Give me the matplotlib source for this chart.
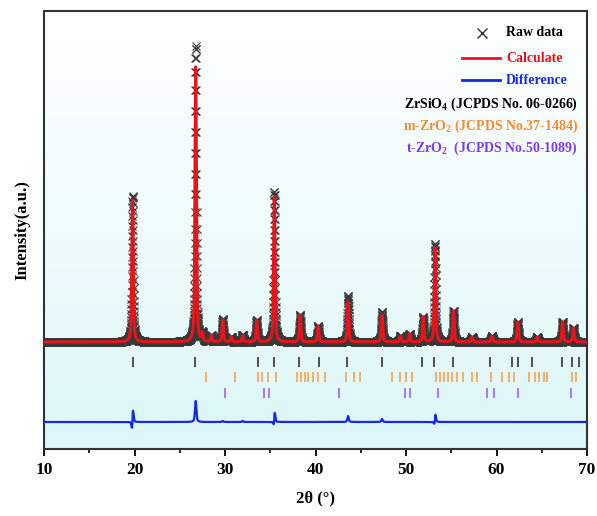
import numpy as np
import matplotlib.pyplot as plt
from matplotlib.lines import Line2D
from matplotlib.colors import LinearSegmentedColormap

plt.rcParams['font.family'] = ['Liberation Serif', 'DejaVu Serif']
plt.rcParams['font.weight'] = 'bold'
plt.rcParams['mathtext.default'] = 'regular'

# peaks (2theta, height above background, arbitrary units)
peak_pos = [19.78, 26.76, 27.5, 28.5, 29.75, 30.7, 31.95, 33.5, 35.45, 38.3, 40.3,
            43.6, 47.35, 49.4, 50.4, 51.9, 53.2, 55.25, 57.3, 59.5, 62.35, 64.5, 67.3, 68.5]
calc_h = [142, 275, 8, 6, 22, 5, 6, 22, 145, 27, 16,
          40, 27, 6, 8, 25, 94, 31, 5, 6, 20, 5, 20, 14]
raw_h = [146, 296, 8, 6, 23, 5, 7, 22, 150, 27, 16,
         46, 30, 6, 8, 25, 98, 31, 5, 6, 20, 5, 20, 14]
raw_shift = [0.008, 0.0, 0, 0, 0, 0, 0, 0, 0.005, 0, 0,
             0, 0, 0, 0, 0, 0.006, 0, 0, 0, 0, 0, 0, 0]
background = 107
diff_offset = 27

# Bragg positions
zrsio4_pos = [19.8, 26.7, 33.6, 35.4, 38.2, 40.4, 43.5, 47.3, 51.8, 53.1, 55.2,
              59.3, 61.7, 62.4, 63.9, 67.2, 68.3, 69.1]
mzro2_pos = [27.9, 31.1, 33.7, 34.1, 34.8, 35.6, 38.0, 38.4, 38.8, 39.2, 39.7, 40.3, 41.0,
             43.4, 44.3, 44.9, 48.5, 49.3, 50.0, 50.7, 53.3, 53.8, 54.2, 54.6, 55.1, 55.6,
             56.3, 57.3, 57.9, 59.4, 60.6, 61.4, 61.9, 63.6, 64.2, 64.7, 65.2, 65.6, 68.3, 68.8]
tzro2_pos = [30.0, 34.3, 34.9, 42.6, 49.9, 50.4, 53.5, 58.9, 59.7, 62.4, 68.2]

fwhm = 0.18
eta = 0.6


def profile(x, pos, heights, shifts=None):
    y = np.full_like(x, background, dtype=float)
    for i, (p, h) in enumerate(zip(pos, heights)):
        if shifts is not None:
            p = p + shifts[i]
        u = (x - p) / fwhm
        y += h * (eta / (1 + 4 * u ** 2) + (1 - eta) * np.exp(-4 * np.log(2) * u ** 2))
    return y


tt = np.arange(10, 70.0001, 0.01)
raw = profile(tt, peak_pos, raw_h, raw_shift)
calc = profile(tt, peak_pos, calc_h)
diff = raw - calc + diff_offset

fig = plt.figure(figsize=(5.97, 5.16), dpi=100)
ax = fig.add_axes([44 / 597, 1 - 449 / 516, 543 / 597, 438 / 516])

# white (top) -> light cyan (bottom) background
cmap = LinearSegmentedColormap.from_list('bg', ['#ffffff', '#f0fcfd', '#dcf6f9'])
grad = np.linspace(0, 1, 256).reshape(-1, 1)
ax.imshow(grad, aspect='auto', cmap=cmap, extent=[0, 1, 0, 1], origin='upper',
          transform=ax.transAxes, zorder=0)

ax.plot(tt, raw, ls='none', marker='x', ms=5.5, mew=0.8, color='#383838', zorder=2)
ax.plot(tt, calc, color='#e8141c', lw=2.2, zorder=3)
ax.plot(tt, diff, color='#1428e6', lw=1.6, zorder=3)

ax.plot(zrsio4_pos, [87] * len(zrsio4_pos), ls='none', marker='|', ms=7, mew=1.2, color='#333333')
ax.plot(mzro2_pos, [72] * len(mzro2_pos), ls='none', marker='|', ms=7, mew=1.2, color='#f3a352')
ax.plot(tzro2_pos, [56] * len(tzro2_pos), ls='none', marker='|', ms=7, mew=1.2, color='#9a66ee')

ax.set_xlim(10, 70)
ax.set_ylim(0, 438)
ax.set_xticks(range(10, 71, 10))
ax.set_xticks(range(15, 70, 10), minor=True)
ax.set_yticks([])
ax.tick_params(axis='x', which='major', direction='out', length=5, width=1.3, labelsize=12.5, pad=4)
ax.tick_params(axis='x', which='minor', direction='out', length=3, width=1.2)
for s in ax.spines.values():
    s.set_linewidth(1.5)
    s.set_color('#333333')

ax.set_xlabel('2θ (°)', fontsize=12, fontweight='bold', labelpad=9)
ax.set_ylabel('Intensity(a.u.)', fontsize=12, fontweight='bold', labelpad=10)


# legend, placed in figure pixels
def fx(px):
    return px / 597


def fy(py):
    return 1 - py / 516


fig.add_artist(Line2D([fx(482)], [fy(33)], marker='x', ms=7, mew=1.0, color='#333333', ls='none'))
fig.text(fx(506), fy(33), 'Raw data', fontsize=10, color='black', va='center')
fig.add_artist(Line2D([fx(462), fx(500)], [fy(58), fy(58)], color='#e8141c', lw=2))
fig.text(fx(506), fy(58), 'Calculate', fontsize=10, color='#e8141c', va='center')
fig.add_artist(Line2D([fx(462), fx(500)], [fy(80), fy(80)], color='#1428e6', lw=2))
fig.text(fx(506), fy(80), 'Difference', fontsize=10, color='#1428e6', va='center')
fig.text(fx(578), fy(104), 'ZrSiO$_4$ (JCPDS No. 06-0266)', fontsize=10, color='black',
         ha='right', va='center')
fig.text(fx(578), fy(126), 'm-ZrO$_2$ (JCPDS No.37-1484)', fontsize=10, color='#f08c34',
         ha='right', va='center')
fig.text(fx(578), fy(148), 't-ZrO$_2$  (JCPDS No.50-1089)', fontsize=10, color='#7a3cf0',
         ha='right', va='center')

fig.savefig('out.png', dpi=100)
